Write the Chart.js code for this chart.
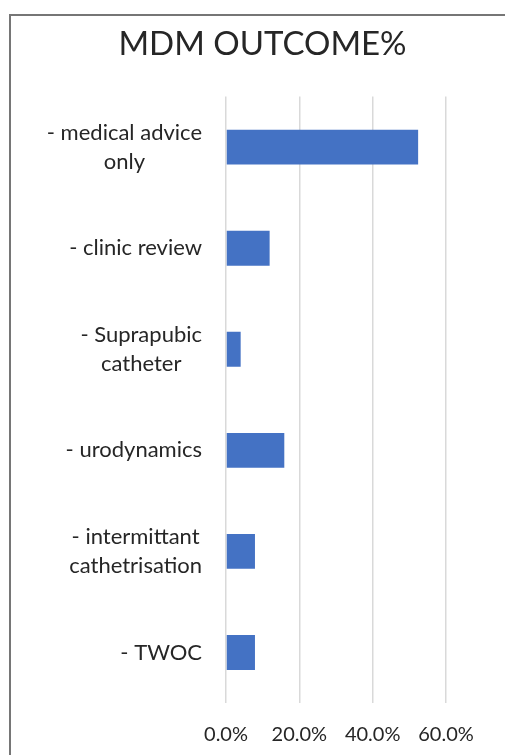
<!DOCTYPE html>
<html>
<head>
<meta charset="utf-8">
<script src="https://cdn.jsdelivr.net/npm/chart.js@4/dist/chart.umd.min.js"></script>
<style>
  html, body { margin: 0; padding: 0; background: #fff; overflow: hidden; }
  #wrap { position: relative; width: 505px; height: 755px; }
  canvas { position: absolute; left: 0; top: 0; }
  #frame { position: absolute; left: 9px; top: 14px; width: 600px; height: 800px;
           border-left: 2px solid #767676; border-top: 2px solid #767676; pointer-events: none; }
</style>
</head>
<body>
<div id="wrap">
  <canvas id="c" width="505" height="755"></canvas>
  <div id="frame"></div>
</div>
<script>
const chartTitle = "MDM OUTCOME%";
const categories = [
  ["- medical advice", "only"],
  ["- clinic review"],
  ["- Suprapubic", "catheter"],
  ["- urodynamics"],
  ["- intermittant", "cathetrisation"],
  ["- TWOC"]
];
const outcomePercent = [52.4, 11.9, 4.0, 15.9, 7.9, 7.9];
const xTicks = [0, 20, 40, 60];

const FONT = "Lato, 'Open Sans', sans-serif";
const TEXT = "#262626";

const labelPlugin = {
  id: "blockLabels",
  afterDraw(chart) {
    const ctx = chart.ctx;
    const y = chart.scales.y;
    const right = chart.chartArea.left - 24;
    const lh = 29;
    ctx.save();
    ctx.font = "22px " + FONT;
    ctx.fillStyle = TEXT;
    ctx.textAlign = "center";
    ctx.textBaseline = "middle";
    chart.data.labels.forEach((lines, i) => {
      const w = Math.max(...lines.map(l => ctx.measureText(l).width));
      const cx = right - w / 2;
      const cy = y.getPixelForValue(i);
      const y0 = cy - (lines.length - 1) * lh / 2;
      lines.forEach((l, k) => ctx.fillText(l, cx, y0 + k * lh));
    });
    ctx.restore();
  }
};

new Chart(document.getElementById("c"), {
  type: "bar",
  data: {
    labels: categories,
    datasets: [{
      data: outcomePercent,
      backgroundColor: "#4472C4",
      borderWidth: 0,
      barPercentage: 0.345,
      categoryPercentage: 1
    }]
  },
  plugins: [labelPlugin],
  options: {
    indexAxis: "y",
    responsive: false,
    animation: false,
    layout: { padding: { left: 20, right: 0, top: 25, bottom: 0 } },
    plugins: {
      legend: { display: false },
      tooltip: { enabled: false },
      title: {
        display: true,
        text: chartTitle,
        color: TEXT,
        font: { family: FONT, size: 33, weight: "normal" },
        padding: { top: 0, bottom: 32 }
      }
    },
    scales: {
      x: {
        min: 0,
        max: 60,
        afterBuildTicks(scale) { scale.ticks = xTicks.map(v => ({ value: v })); },
        afterFit(scale) { scale.height = 52; },
        ticks: {
          color: TEXT,
          font: { family: FONT, size: 20 },
          padding: 20,
          maxRotation: 0,
          callback: v => v.toFixed(1) + "%"
        },
        grid: { color: "#d9d9d9", lineWidth: 1.5, drawTicks: false },
        border: { display: false }
      },
      y: {
        afterFit(scale) { scale.width = 206; },
        ticks: { color: "rgba(0,0,0,0)", font: { family: FONT, size: 20 } },
        grid: { display: false },
        border: { display: false }
      },
      yRight: {
        type: "category",
        position: "right",
        labels: [""],
        afterFit(scale) { scale.width = 59; },
        ticks: { display: false },
        grid: { display: false },
        border: { display: false }
      }
    }
  }
});
</script>
</body>
</html>
